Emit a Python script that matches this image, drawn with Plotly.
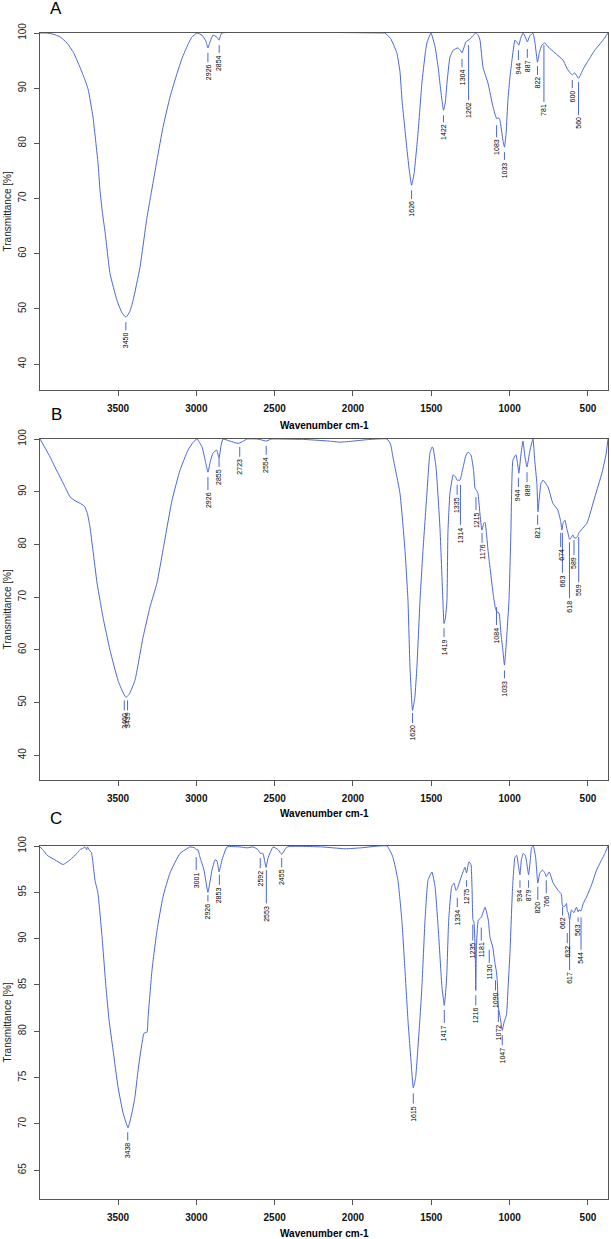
import plotly.graph_objects as go

# ---------------- data ----------------
A_WN = [3998, 3960, 3915, 3870, 3826, 3785, 3743, 3715, 3690, 3660, 3628, 3615, 3600, 3583, 3551, 3506, 3475, 3449, 3425,
        3404, 3360, 3315, 3296, 3251, 3213, 3168, 3123, 3090, 3060, 3030, 2996, 2964, 2940, 2926, 2910, 2894, 2870,
        2855, 2845, 2836, 1800, 1796, 1760, 1720, 1700, 1687, 1670, 1655, 1640, 1626, 1610, 1585, 1560, 1540, 1528,
        1502, 1476, 1455, 1445, 1422, 1410, 1400, 1381, 1360, 1330, 1315, 1304, 1290, 1279, 1253, 1235, 1215, 1200,
        1189, 1170, 1138, 1106, 1083, 1070, 1062, 1043, 1033, 1022, 1011, 998, 985, 966, 955, 941, 930, 915, 900, 887,
        870, 851, 838, 822, 810, 794, 775, 755, 711, 660, 628, 600, 585, 560, 530, 507, 456, 404, 372]
A_T = [100, 100, 99.8, 99.3, 98.2, 96.5, 93.8, 91.8, 89.7, 84.8, 76.5, 71.5, 67.5, 64.0, 56.4, 51.5, 49.3, 48.5, 49.5,
       51.5, 57.5, 66.6, 69.7, 77.0, 82.9, 88.4, 92.7, 95.5, 97.5, 99.2, 100, 99.6, 98.6, 97.3, 98.6, 99.6, 99.3,
       98.7, 99.6, 100, 100, 100, 99.0, 96.4, 93.0, 87.8, 83.0, 78.8, 75.0, 72.4, 74.5, 81.8, 90.9, 96.0, 98.2,
       100, 97.5, 93.5, 90.9, 86.0, 87.5, 90.9, 95.6, 96.9, 97.3, 96.9, 96.4, 97.5, 98.4, 98.9, 99.5, 100, 99.6,
       98.7, 93.8, 90.9, 86.6, 84.5, 84.6, 84.2, 80.6, 79.3, 82.0, 87.8, 92.0, 95.1, 98.7, 98.4, 97.8, 99.0, 100, 99.3, 98.4,
       99.5, 100, 98.2, 94.7, 96.5, 97.8, 98.2, 97.5, 96.4, 95.1, 93.3, 92.4, 92.8, 91.8, 93.5, 94.6, 96.9, 98.7, 100]

B_WN = [3998, 3960, 3934, 3900, 3870, 3840, 3806, 3775, 3743, 3720, 3711, 3695, 3679, 3660, 3634, 3615, 3596, 3551,
        3500, 3470, 3450, 3430, 3392, 3340, 3296, 3251, 3213, 3155, 3104, 3053, 3020, 2996, 2964, 2940, 2926, 2910,
        2894, 2870, 2855, 2842, 2830, 2785, 2740, 2727, 2700, 2677, 2613, 2580, 2555, 2530, 2510, 2300, 2150, 2083,
        2000, 1900, 1783, 1760, 1745, 1700, 1668, 1649, 1636, 1620, 1605, 1592, 1572, 1553, 1528, 1509, 1495, 1489,
        1470, 1445, 1426, 1419, 1410, 1400, 1394, 1381, 1360, 1345, 1336, 1317, 1298, 1280, 1266, 1247, 1230, 1221,
        1210, 1202, 1190, 1177, 1165, 1157, 1138, 1106, 1090, 1081, 1068, 1055, 1043, 1033, 1017, 1004, 992, 979, 960,
        950, 941, 928, 915, 902, 889, 870, 851, 840, 826, 819, 810, 800, 787, 755, 724, 692, 675, 666, 660, 647, 635,
        628, 618, 609, 596, 589, 577, 565, 558, 507, 456, 411, 385, 372]
B_T = [100, 98.0, 96.6, 94.5, 92.8, 91.0, 89.0, 88.3, 87.8, 87.4, 87.1, 85.8, 83.3, 78.9, 72.7, 69.4, 66.2, 59.9,
       54.2, 52.0, 51.0, 51.5, 54.2, 62.4, 68.1, 72.7, 78.9, 88.4, 94.1, 97.9, 99.4, 100, 98.5, 95.5, 93.7, 95.8,
       97.3, 97.9, 96.4, 98.8, 100, 99.6, 99.2, 99.2, 99.6, 100, 100, 99.8, 99.6, 99.9, 100, 99.9, 99.6, 99.4,
       99.6, 99.9, 100, 99.0, 96.6, 89.7, 78.9, 69.4, 56.7, 48.5, 51.0, 56.7, 69.4, 78.9, 89.7, 97.3, 98.5, 98.3,
       94.7, 83.3, 69.4, 65.0, 66.0, 69.4, 82.2, 89.7, 93.2, 92.8, 92.2, 92.2, 94.5, 96.8, 97.5, 97.0, 94.0, 90.7,
       90.2, 89.7, 86.0, 82.7, 84.0, 84.2, 78.9, 70.8, 67.8, 67.2, 67.0, 63.0, 59.9, 57.1, 63.2, 69.4, 82.2, 96.0, 97.0,
       95.5, 93.5, 97.0, 99.6, 96.6, 94.7, 97.9, 100, 96.0, 91.6, 86.2, 89.0, 91.6, 92.2, 90.9, 87.8, 86.5, 84.5, 82.7, 84.0, 84.6, 83.0,
       82.2, 81.0, 81.2, 81.8, 81.3, 81.2, 81.6, 82.2, 84.0, 89.0, 93.5, 97.0, 100]

C_WN = [3998, 3975, 3953, 3902, 3851, 3830, 3806, 3762, 3743, 3720, 3711, 3700, 3695, 3685, 3670, 3660, 3647, 3628,
        3602, 3577, 3557, 3532, 3500, 3468, 3436, 3411, 3392, 3372, 3347, 3334, 3315, 3308, 3283, 3251, 3213, 3168,
        3104, 3040, 3010, 3001, 2990, 2977, 2951, 2926, 2900, 2881, 2868, 2855, 2836, 2804, 2721, 2677, 2638, 2606,
        2592, 2575, 2555, 2542, 2510, 2478, 2455, 2421, 2200, 2050, 1950, 1783, 1745, 1713, 1688, 1668, 1649, 1630,
        1615, 1600, 1591, 1572, 1560, 1540, 1521, 1496, 1476, 1455, 1432, 1417, 1405, 1400, 1389, 1370, 1355, 1343,
        1334, 1330, 1304, 1285, 1275, 1260, 1247, 1240, 1234, 1228, 1220, 1216, 1212, 1200, 1181, 1157, 1136, 1126,
        1108, 1094, 1085, 1079, 1072, 1060, 1047, 1035, 1020, 1009, 998, 981, 966, 955, 945, 934, 925, 913, 900, 891,
        879, 868, 860, 849, 834, 820, 807, 790, 775, 766, 747, 722, 690, 670, 662, 647, 637, 632, 626, 617, 605, 590,
        573, 563, 556, 544, 530, 509, 477, 445, 413, 392, 372]
C_T = [99.9, 99.5, 99.0, 98.5, 98.0, 98.2, 98.5, 99.2, 99.6, 99.8, 99.9, 99.6, 99.9, 99.6, 99.3, 98.2, 96.3, 94.9,
       90.2, 84.8, 81.2, 78.0, 74.0, 71.2, 69.6, 71.2, 72.9, 75.8, 78.7, 79.8, 79.9, 81.5, 86.6, 90.9, 94.5, 97.1,
       99.2, 99.9, 99.8, 99.6, 99.6, 98.8, 97.4, 95.0, 97.4, 98.5, 98.4, 97.2, 98.5, 99.9, 99.9, 99.8, 99.9, 99.6,
       99.2, 99.2, 97.7, 98.7, 99.9, 99.6, 99.1, 99.9, 99.9, 99.7, 99.8, 100, 98.8, 96.3, 92.0, 86.6, 81.2, 76.9,
       73.9, 75.0, 76.9, 81.5, 84.8, 92.0, 96.3, 97.2, 95.6, 90.9, 84.8, 82.8, 85.0, 86.6, 92.0, 95.6, 96.0, 95.2,
       95.4, 95.6, 96.9, 97.7, 97.1, 98.3, 98.0, 95.5, 92.0, 91.8, 89.0, 84.4, 89.0, 92.0, 92.3, 93.4, 92.0, 90.2,
       89.1, 87.4, 86.5, 85.5, 82.6, 81.5, 80.1, 81.0, 81.8, 85.0, 88.4, 95.6, 98.8, 99.0, 98.0, 96.9, 98.5, 99.2, 99.0, 98.2,
       96.9, 98.5, 99.8, 100, 98.8, 96.0, 97.1, 97.4, 97.1, 96.7, 97.2, 96.0, 95.2, 94.8, 93.5, 93.5, 93.8, 93.0, 92.8, 92.0, 93.1, 92.8,
       93.4, 92.9, 93.1, 93.0, 93.8, 94.5, 95.8, 97.4, 98.5, 99.2, 100]

# peak labels (wavenumber text), stem top / stem bottom (transmittance)
A_PK = ["3450", "2926", "2854", "1626", "1422", "1304", "1262", "1083", "1033", "944", "887", "822", "781", "600", "560"]
A_PK_TOP = [47.6, 96.4, 97.8, 71.5, 85.1, 95.3, 97.8, 83.3, 78.4, 96.9, 97.1, 94.0, 97.8, 91.5, 91.1]
A_PK_BOT = [46.1, 94.7, 96.4, 69.9, 83.8, 93.8, 87.8, 81.1, 77.0, 95.1, 95.5, 92.4, 87.5, 90.0, 85.1]

B_PK = ["3460", "3439", "2926", "2855", "2723", "2554", "1620", "1419", "1335", "1314", "1215", "1176", "1084",
        "1033", "944", "889", "821", "674", "663", "618", "589", "559"]
B_PK_TOP = [50.4, 50.4, 92.8, 96.4, 98.5, 98.7, 48.0, 64.1, 91.3, 91.3, 89.0, 82.2, 68.1,
            56.1, 92.6, 93.7, 85.6, 82.2, 82.2, 80.4, 80.8, 81.4]
B_PK_BOT = [48.5, 48.5, 90.3, 94.7, 96.6, 97.0, 46.1, 62.4, 89.4, 83.7, 86.5, 80.3, 64.7,
            54.6, 90.9, 91.8, 83.7, 79.5, 74.6, 69.8, 78.0, 72.8]

C_PK = ["3438", "3001", "2926", "2853", "2592", "2553", "2455", "1615", "1417", "1334", "1275", "1235", "1216",
        "1181", "1130", "1090", "1072", "1047", "934", "879", "820", "766", "662", "632", "617", "563", "544"]
C_PK_TOP = [69.1, 98.8, 94.7, 96.9, 98.7, 97.4, 98.7, 73.3, 82.3, 94.4, 96.3, 91.5, 83.9,
            91.2, 88.8, 85.5, 82.3, 79.6, 96.3, 96.3, 95.6, 96.3, 93.4, 90.6, 92.0, 92.3, 92.3]
C_PK_BOT = [68.2, 97.4, 94.0, 95.8, 97.6, 93.8, 97.7, 72.2, 80.9, 93.4, 95.6, 89.8, 82.8,
            89.8, 87.4, 84.4, 81.0, 78.5, 95.5, 95.5, 94.2, 94.9, 92.5, 89.5, 86.6, 91.8, 88.8]

X_TICKS = [3500, 3000, 2500, 2000, 1500, 1000, 500]
A_YTICKS = [40, 50, 60, 70, 80, 90, 100]
B_YTICKS = [40, 50, 60, 70, 80, 90, 100]
C_YTICKS = [65, 70, 75, 80, 85, 90, 95, 100]

# ---------------- figure ----------------
W, H = 611, 1239
PX0, PX1 = 40, 608
BLUE = "#4a66dc"
FONT = "Liberation Sans, Arial, sans-serif"
AXC = "#555555"

panels = [
    dict(wn=A_WN, t=A_T, pk=A_PK, top=A_PK_TOP, bot=A_PK_BOT, py=(33, 390), yr=[35.3, 100.0], yt=A_YTICKS,
         letter="A", ly=9, ty=425),
    dict(wn=B_WN, t=B_T, pk=B_PK, top=B_PK_TOP, bot=B_PK_BOT, py=(439, 780), yr=[35.3, 100.0], yt=B_YTICKS,
         letter="B", ly=415, ty=813),
    dict(wn=C_WN, t=C_T, pk=C_PK, top=C_PK_TOP, bot=C_PK_BOT, py=(846, 1199), yr=[61.9, 100.0], yt=C_YTICKS,
         letter="C", ly=818, ty=1233),
]

fig = go.Figure()
layout = {}
annotations = []
shapes = []
for i, p in enumerate(panels, start=1):
    sx = "" if i == 1 else str(i)
    xa, ya = "x" + sx, "y" + sx
    fig.add_trace(go.Scatter(x=p["wn"], y=p["t"], mode="lines",
                             line=dict(color=BLUE, width=1, shape="spline", smoothing=0.4),
                             xaxis=xa, yaxis=ya, showlegend=False, hoverinfo="skip"))
    for lab, top, bot in zip(p["pk"], p["top"], p["bot"]):
        wn = float(lab)
        shapes.append(dict(type="line", xref=xa, yref=ya, x0=wn, x1=wn, y0=top, y1=bot,
                           line=dict(color=BLUE, width=1)))
        annotations.append(dict(xref=xa, yref=ya, x=wn, y=bot, text=lab, textangle=-90, showarrow=False,
                                xanchor="center", yanchor="top", yshift=-1, borderpad=0,
                                font=dict(size=7, color="black", family=FONT)))
    y0 = 1 - p["py"][1] / H
    y1 = 1 - p["py"][0] / H
    layout["xaxis" + sx] = dict(domain=[PX0 / W, PX1 / W], anchor=ya, range=[3998, 372],
                                tickvals=X_TICKS, ticks="outside", ticklen=5, tickcolor=AXC,
                                showline=True, linecolor=AXC, linewidth=1, mirror=True,
                                showgrid=False, zeroline=False, layer="below traces",
                                ticklabelstandoff=4,
                                tickfont=dict(size=10, color="#111", family=FONT, weight="bold"))
    layout["yaxis" + sx] = dict(domain=[y0, y1], anchor=xa, range=p["yr"], tickvals=p["yt"],
                                ticks="outside", ticklen=5, tickcolor=AXC, tickangle=-90,
                                showline=True, linecolor=AXC, linewidth=1, mirror=True,
                                showgrid=False, zeroline=False, layer="below traces",
                                ticklabelstandoff=4,
                                tickfont=dict(size=10, color="#222", family=FONT))
    # panel letter
    annotations.append(dict(xref="paper", yref="paper", x=56 / W, y=1 - p["ly"] / H, text=p["letter"],
                            showarrow=False, xanchor="center", yanchor="middle",
                            font=dict(size=17, color="black", family=FONT)))
    # x title
    annotations.append(dict(xref="paper", yref="paper", x=(PX0 + PX1) / 2 / W, y=1 - p["ty"] / H,
                            text="Wavenumber cm-1", showarrow=False, xanchor="center", yanchor="middle",
                            font=dict(size=10, color="black", family=FONT, weight="bold")))
    # y title
    annotations.append(dict(xref="paper", yref="paper", x=7 / W, y=(y0 + y1) / 2,
                            text="Transmittance [%]", textangle=-90, showarrow=False,
                            xanchor="center", yanchor="middle",
                            font=dict(size=10, color="#222", family=FONT)))

fig.update_layout(width=W, height=H, margin=dict(l=0, r=0, t=0, b=0, pad=0, autoexpand=False),
                  autosize=False, paper_bgcolor="white", plot_bgcolor="white",
                  annotations=annotations, shapes=shapes, **layout)
fig.write_html("out.html", config={"displayModeBar": False},
               post_script="document.body.style.margin='0';document.body.style.overflow='hidden';")
